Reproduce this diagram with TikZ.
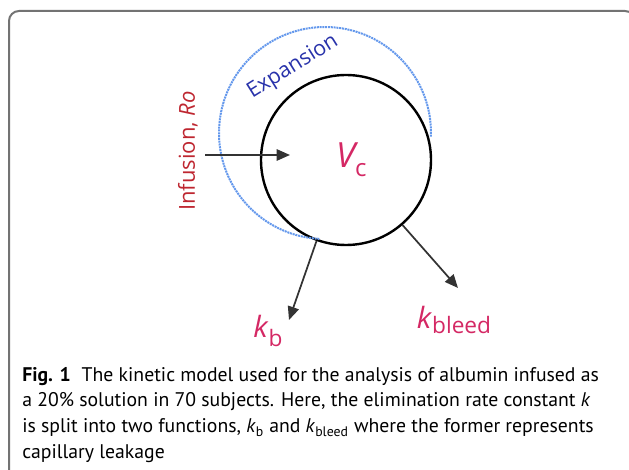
\documentclass[tikz,border=0pt]{standalone}
\usepackage{fontspec}
\setmainfont{Open Sans}
\newfontfamily\capfont{PT Sans}
\usetikzlibrary{arrows.meta,calc}
\definecolor{framegray}{RGB}{115,115,115}
\definecolor{infred}{RGB}{190,38,48}
\definecolor{ratepink}{RGB}{212,40,100}
\definecolor{expblue}{RGB}{40,50,170}
\definecolor{dotblue}{RGB}{100,152,236}
\tikzset{>={Triangle[length=10pt,width=8.5pt]}}
\tikzset{
  pool/.style={draw, circle, line width=1.8pt, minimum size=127.5pt, inner sep=0pt},
  flow/.style={->, line width=1.3pt, black!80},
  ratelabel/.style={text=ratepink, font=\fontsize{22}{26}\selectfont},
}

\begin{document}
\begin{tikzpicture}[x=0.75pt, y=0.75pt]

      \useasboundingbox (0,0) rectangle (629,-470);
      \clip (0,0) rectangle (629,-470);
      % caption frame
      \draw[framegray, line width=1.5pt, rounded corners=7.5pt]
        (9,-490) -- (9,-11) -- (635,-11) -- (635,-490);

      \node[pool, text=ratepink] (vc) at (346,-160)
        {\hspace{8pt}{\fontsize{26}{30}\selectfont\itshape V}\raisebox{-1.2ex}{\fontsize{18}{21}\selectfont c}};
      \coordinate (exp) at (325,-133); %centre of the expanded pool
      \draw[dotblue, line width=1.5pt, dash pattern=on 1.5pt off 0.6pt]
        ($(exp)+(-2:79.5pt)$) arc[start angle=-2, end angle=267, radius=79.5pt];
      \node[text=expblue, rotate=32, font=\fontsize{16}{19}\selectfont] (expl) at (293,-67) {Expansion};
      \node[text=infred, rotate=90, font=\fontsize{16.5}{19}\selectfont] (infl) at (188,-151) {Infusion, \textit{Ro}};

      \coordinate (ins) at (205,-155);
      \coordinate (ine) at (290,-155);
      \coordinate (kbtip) at (289,-320);
      \coordinate (kbleedtip) at (458,-288);
      \node[ratelabel] (kb) at (268,-331) {\textit{k}\raisebox{-0.6ex}{\fontsize{17}{20}\selectfont b}};
      \node[ratelabel] (kbleed) at (454,-320) {\textit{k}\raisebox{-0.3ex}{\fontsize{17}{20}\selectfont bleed}};

      \path[flow] (ins) edge (ine)
                  (vc.250) edge (kbtip)
                  (vc.311) edge (kbleedtip);

      \node[anchor=base west, align=left, inner sep=0pt,
            font=\capfont\fontsize{14.8}{19.5}\selectfont] (cap) at (22,-459)
        {{\bfseries Fig. 1}\hspace{0.55em}The kinetic model used for the analysis of albumin infused as\\
         a 20\% solution in 70 subjects. Here, the elimination rate constant \textit{k}\\
         is split into two functions, \textit{k}\textsubscript{b} and \textit{k}\textsubscript{bleed} where the former represents\\
         capillary leakage};

\end{tikzpicture}
\end{document}
